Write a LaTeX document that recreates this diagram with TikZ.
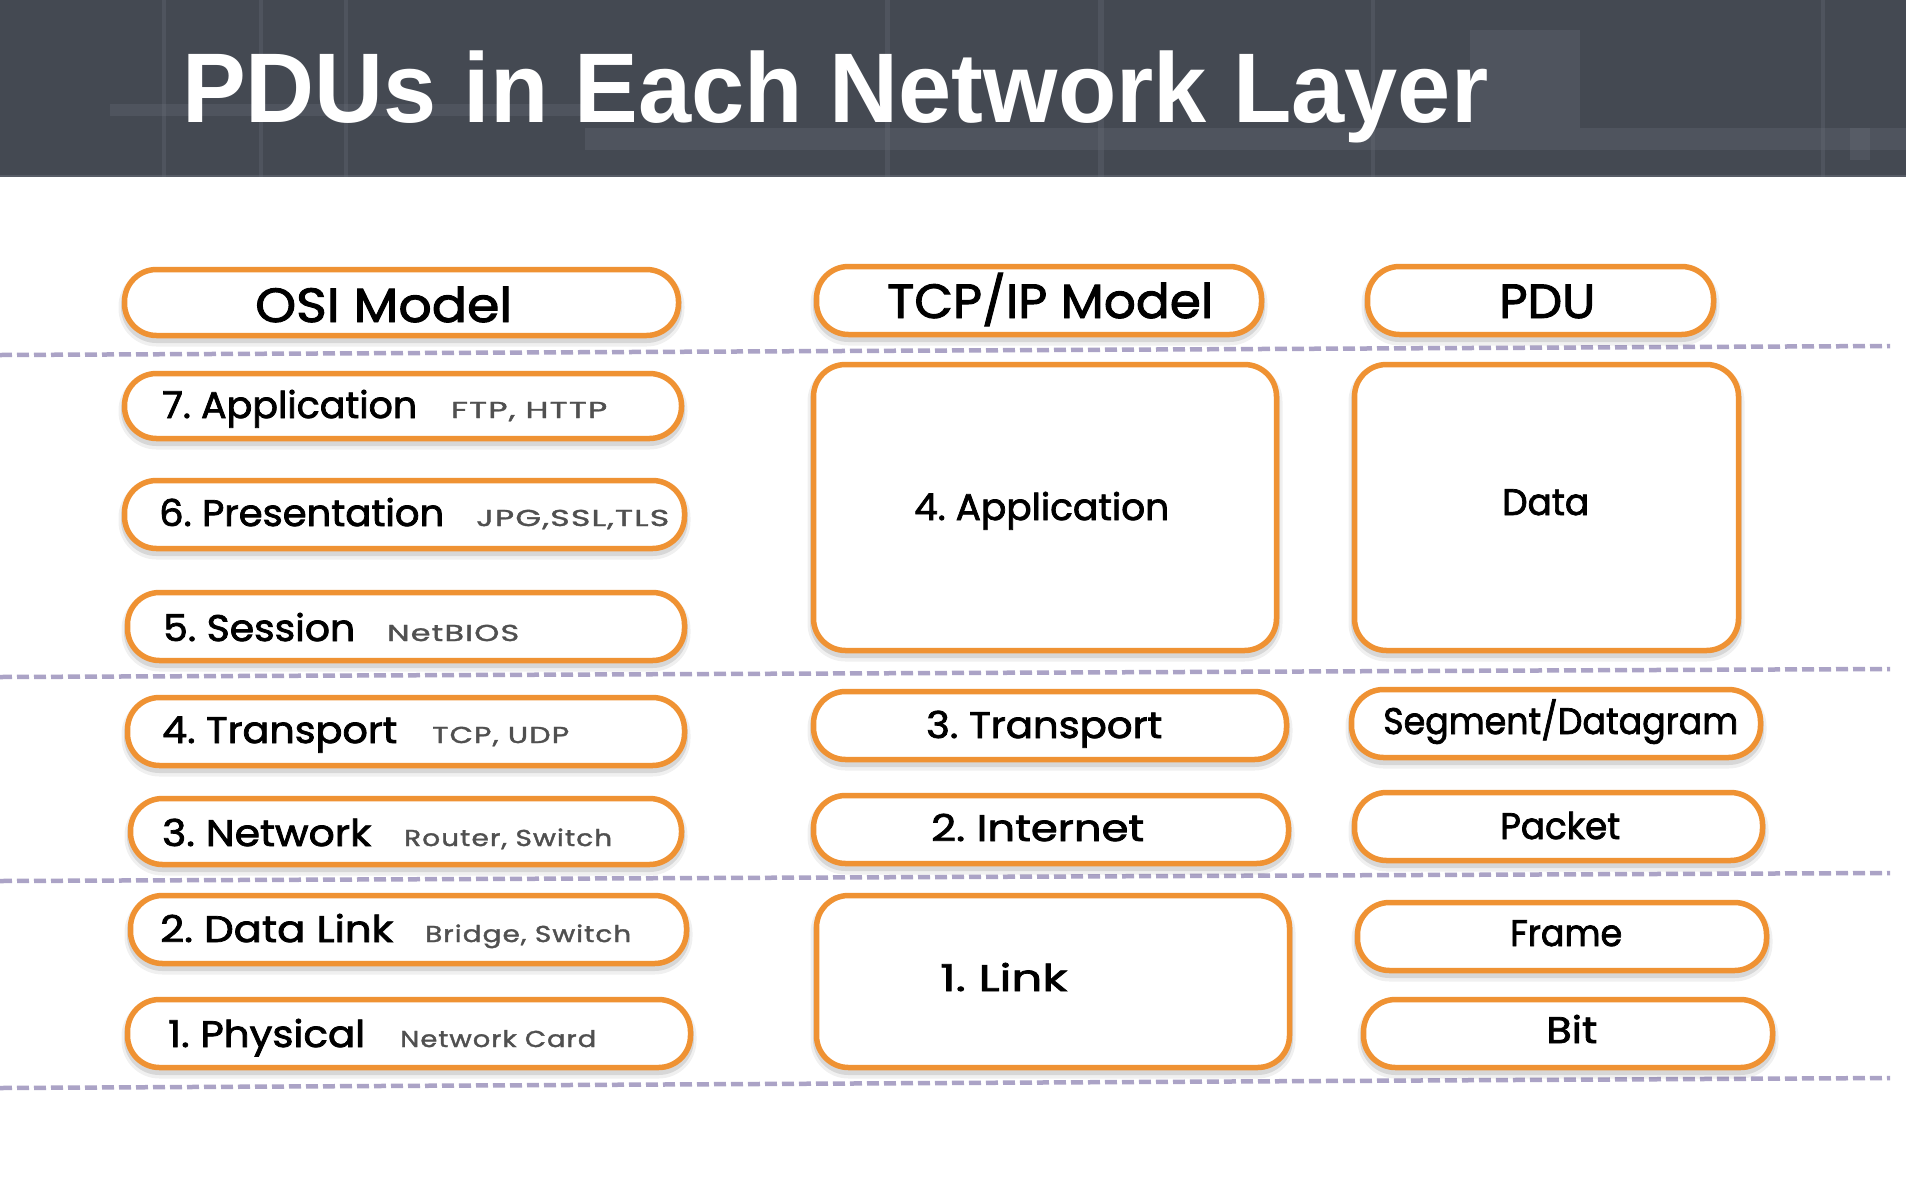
\documentclass[tikz,border=0pt]{standalone}
\usepackage{fontspec}
\setmainfont{Poppins}
\newfontfamily\titlefont{Liberation Sans}
\newfontfamily\lblfont{Poppins}[FakeBold=2]
\newfontfamily\exfont{Poppins}[FakeBold=1.5, LetterSpace=4]
\definecolor{headbg}{HTML}{444952}
\definecolor{headline}{HTML}{6A707A}
\definecolor{boxorange}{HTML}{EF9233}
\definecolor{dashlav}{HTML}{ABA3C6}
\definecolor{subgray}{HTML}{505050}
% set a label to a given width, keeping its height
\newcommand\fitw[2]{\resizebox{#1pt}{\height}{#2}}
\begin{document}
\begin{tikzpicture}[x=1pt,y=-1pt,
  layerbox/.style={draw=boxorange, line width=5.5pt, fill=white, rounded corners=32pt,
    preaction={draw=black, draw opacity=0.06, line width=12pt, transform canvas={yshift=-5pt}},
    preaction={draw=black, draw opacity=0.10, line width=7pt, transform canvas={yshift=-4pt}}},
  bx/.style 2 args={layerbox, minimum width=#1 pt, minimum height=#2 pt, inner sep=0pt},
  sep/.style={draw=dashlav, line width=4.5pt, dash pattern=on 12pt off 5pt},
  headlbl/.style={anchor=base west, inner sep=0pt, font=\lblfont\fontsize{48}{48}\selectfont},
  mainlbl/.style={anchor=base west, inner sep=0pt, font=\lblfont\fontsize{37}{37}\selectfont},
  sublbl/.style={anchor=base west, inner sep=0pt, text=subgray, font=\exfont\fontsize{23}{23}\selectfont}]

% canvas
\useasboundingbox (0,0) rectangle (1906,1176);
\fill[white] (0,0) rectangle (1906,1176);

% header band with faint grid pattern
\fill[headbg] (0,0) rectangle (1906,177);
\begin{scope}[headline, opacity=0.3]
  \fill (162,0) rectangle (166,177);
  \fill (259,0) rectangle (263,177);
  \fill (344,0) rectangle (348,177);
  \fill (885,0) rectangle (890,177);
  \fill (1098,0) rectangle (1104,177);
  \fill (1371,0) rectangle (1375,177);
  \fill (1821,0) rectangle (1825,177);
  \fill (110,104) rectangle (585,116);
  \fill (585,128) rectangle (1906,150);
  \fill (1470,30) rectangle (1580,128);
  \fill (1850,128) rectangle (1870,160);
\end{scope}
\fill[headline, opacity=0.5] (0,175) rectangle (1906,177);

% title
\node[anchor=base west, inner sep=0pt, text=white,
      font=\titlefont\bfseries\fontsize{99}{99}\selectfont] (title) at (182,122)
  {\scalebox{0.965}[1]{PDUs in Each Network Layer}};

% layer separators
\coordinate (s1a) at (0,355);  \coordinate (s1b) at (1890,346);
\coordinate (s2a) at (0,677);  \coordinate (s2b) at (1890,669);
\coordinate (s3a) at (0,881);  \coordinate (s3b) at (1890,873);
\coordinate (s4a) at (0,1088); \coordinate (s4b) at (1890,1078);
\draw[sep] (s1a) -- (s1b);
\draw[sep] (s2a) -- (s2b);
\draw[sep] (s3a) -- (s3b);
\draw[sep] (s4a) -- (s4b);

% OSI column
\node[bx={554}{66}] (osi)  at (401.5,302.5) {};
\node[bx={557}{65}] (osi7) at (403,406) {};
\node[bx={560}{68}] (osi6) at (404.5,514.5) {};
\node[bx={557}{68}] (osi5) at (406,626.5) {};
\node[bx={557}{68}] (osi4) at (406,731.5) {};
\node[bx={551}{66}] (osi3) at (406,831.5) {};
\node[bx={556}{68}] (osi2) at (408.5,929.5) {};
\node[bx={563}{68}] (osi1) at (409,1033.5) {};

% TCP/IP column
\node[bx={445}{68}]  (tcp)  at (1039,300.5) {};
\node[bx={463}{286}] (tcp4) at (1045,507.5) {};
\node[bx={473}{68}]  (tcp3) at (1050,725.5) {};
\node[bx={475}{68}]  (tcp2) at (1051,829.5) {};
\node[bx={473}{172}] (tcp1) at (1053,981.5) {};

% PDU column
\node[bx={346}{68}]  (pdu)   at (1540.5,300.5) {};
\node[bx={384}{286}] (pdud)  at (1546.5,507.5) {};
\node[bx={409}{68}]  (pdus)  at (1556,723.5) {};
\node[bx={408}{68}]  (pdup)  at (1558.5,826.5) {};
\node[bx={409}{68}]  (pduf)  at (1562,936.5) {};
\node[bx={409}{68}]  (pdub)  at (1568,1033.5) {};

% column headings
\node[headlbl] (osiT) at (255,322) {\fitw{257}{OSI Model}};
\node[headlbl] (tcpT) at (887,318) {\fitw{326}{TCP/IP Model}};
\node[headlbl] (pduT) at (1499,318) {\fitw{96}{PDU}};

% OSI layer names and examples
\node[mainlbl] (l7) at (162,418)  {\fitw{255}{7.\ Application}};
\node[sublbl]  (e7) at (451,418)  {\fitw{156}{FTP, HTTP}};
\node[mainlbl] (l6) at (159,526)  {\fitw{285}{6.\ Presentation}};
\node[sublbl]  (e6) at (476,526)  {\fitw{193}{JPG,SSL,TLS}};
\node[mainlbl] (l5) at (163,641)  {\fitw{192}{5.\ Session}};
\node[sublbl]  (e5) at (387,641)  {\fitw{132}{NetBIOS}};
\node[mainlbl] (l4) at (162,743)  {\fitw{235}{4.\ Transport}};
\node[sublbl]  (e4) at (432,743)  {\fitw{137}{TCP, UDP}};
\node[mainlbl] (l3) at (162,846)  {\fitw{209}{3.\ Network}};
\node[sublbl]  (e3) at (404,846)  {\fitw{208}{Router, Switch}};
\node[mainlbl] (l2) at (160,942)  {\fitw{233}{2.\ Data Link}};
\node[sublbl]  (e2) at (425,942)  {\fitw{206}{Bridge, Switch}};
\node[mainlbl] (l1) at (168,1047) {\fitw{197}{1.\ Physical}};
\node[sublbl]  (e1) at (400,1047) {\fitw{196}{Network Card}};

% TCP/IP layer names
\node[mainlbl] (t4) at (914,520) {\fitw{255}{4.\ Application}};
\node[mainlbl] (t3) at (926,738) {\fitw{236}{3.\ Transport}};
\node[mainlbl] (t2) at (931,841) {\fitw{213}{2.\ Internet}};
\node[mainlbl] (t1) at (940,991) {\fitw{127}{1.\ Link}};

% PDU names
\node[mainlbl] (pd) at (1502,515)  {\fitw{87}{Data}};
\node[mainlbl] (ps) at (1383,734)  {\fitw{355}{Segment/Datagram}};
\node[mainlbl] (pp) at (1500,839)  {\fitw{120}{Packet}};
\node[mainlbl] (pf) at (1510,946)  {\fitw{112}{Frame}};
\node[mainlbl] (pb) at (1546,1043) {\fitw{51}{Bit}};
\end{tikzpicture}
\end{document}
